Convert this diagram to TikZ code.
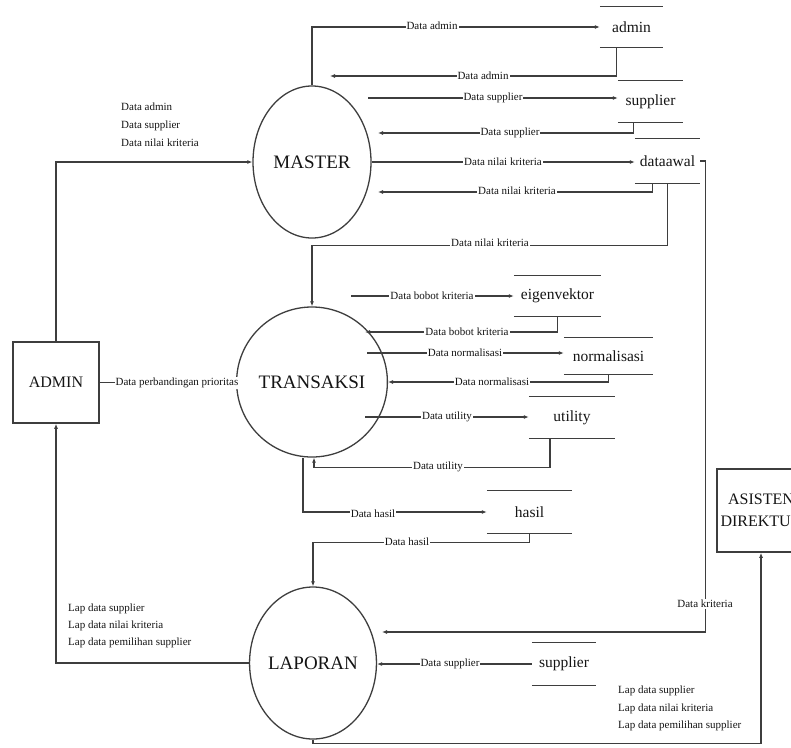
\documentclass[tikz,border=0pt]{standalone}
\usepackage{fontspec}
\setmainfont{Liberation Serif}
\usetikzlibrary{arrows.meta,shapes.geometric,calc}
\definecolor{ln}{RGB}{62,62,62}
\definecolor{tx}{RGB}{20,20,20}
\begin{document}
\begin{tikzpicture}[x=1pt,y=-1pt,
  arr/.style={draw=ln, line width=1.2pt, -{Latex[length=5pt,width=4pt]}},
  proc/.style={ellipse, draw=ln, line width=1.3pt, minimum width=118pt, minimum height=152pt, inner sep=0pt, text=tx, font=\fontsize{19}{21}\selectfont},
  ext/.style={rectangle, draw=ln, line width=1.6pt, inner sep=0pt, text=tx, align=center, font=\fontsize{16}{22}\selectfont},
  storeline/.style={draw=ln, line width=1.2pt},
  store/.style={inner sep=0pt, text=tx, font=\fontsize{15.5}{17}\selectfont,
    append after command={(\tikzlastnode.north west) edge[storeline] (\tikzlastnode.north east)
                          (\tikzlastnode.south west) edge[storeline] (\tikzlastnode.south east)}},
  lbl/.style={fill=white, inner sep=1pt, text=tx, font=\fontsize{11}{12}\selectfont},
  multi/.style={inner sep=0pt, text=tx, align=left, font=\fontsize{11}{18}\selectfont}
]
\useasboundingbox (0,0) rectangle (791,747);
\clip (0,0) rectangle (791,747);

% processes
\node[proc] (master) at (312,162) {MASTER};
\node[proc, minimum width=120pt, minimum height=150pt] (trans) at (312,382) {TRANSAKSI};
\node[proc] (lap) at (313,663) {LAPORAN};

% external entities
\node[ext, minimum width=86pt, minimum height=81pt] (adm) at (56,382.5) {ADMIN};
\node[ext, minimum width=88pt, minimum height=83pt] (asis) at (761,510.5) {ASISTEN\\DIREKTUR};

% data stores
\node[store, minimum width=63pt, minimum height=40pt] (sadmin) at (631.5,27) {admin};
\node[store, minimum width=65pt, minimum height=41pt] (ssup) at (650.5,101.5) {supplier};
\node[store, minimum width=65pt, minimum height=44pt] (sawal) at (667.5,161) {dataawal};
\node[store, minimum width=87pt, minimum height=40pt] (seig) at (557.5,296) {eigenvektor};
\node[store, minimum width=89pt, minimum height=36pt] (snorm) at (608.5,356) {normalisasi};
\node[store, minimum width=86pt, minimum height=41pt] (sutil) at (572,417.5) {utility};
\node[store, minimum width=85pt, minimum height=42pt] (shasil) at (529.5,512) {hasil};
\node[store, minimum width=64pt, minimum height=42pt] (ssup2) at (564,664) {supplier};

% free ends and boundary points
\coordinate (e1) at (330,76);
\coordinate (s1) at (368,98);
\coordinate (e2) at (378,133);
\coordinate (e3) at (378,192);
\coordinate (s2) at (351,296);
\coordinate (e5) at (365,332);
\coordinate (e4) at (382,632);
\coordinate (tn) at ($(trans.center)+(55.3,-29)$);
\coordinate (tu) at ($(trans.center)+(53,35)$);

% connectors
\draw[arr] (adm.north) |- (master.west);
\draw[arr] (master.north) |- (sadmin.west);
\draw[arr] ([xshift=-15pt]sadmin.south) |- (e1);
\draw[arr] (s1) -- (s1 -| ssup.west);
\draw[arr] ([xshift=-17pt]ssup.south) |- (e2);
\draw[arr] (master.east) -- (master.east -| sawal.west);
\draw[arr] ([xshift=-15pt]sawal.south) |- (e3);
\draw[arr] (sawal.south) -- ++(0,62) -| (trans.north);
\draw[arr] (sawal.east) -- ++(5,0) |- (e4);
\draw[arr] (adm.east) -- (adm.east -| trans.west);
\draw[arr] (s2) -- (s2 -| seig.west);
\draw[arr] (seig.south) |- (e5);
\draw[arr] (tn) -- (tn -| snorm.west);
\draw[arr] (snorm.south) |- (trans.east);
\draw[arr] (tu) -- (tu -| sutil.west);
\draw[arr] ([xshift=-22pt]sutil.south) -- ++(0,29.5) -| ([xshift=2pt]trans.south);
\draw[arr] ([xshift=-9pt]trans.south) |- (shasil.west);
\draw[arr] (shasil.south) -- ++(0,9.5) -| (lap.north);
\draw[arr] (ssup2.west) -- (ssup2.west -| lap.east);
\draw[arr] (lap.west) -| (adm.south);
\draw[arr] (lap.south) -- ++(0,4) -| (asis.south);

% flow labels
\node[lbl] at (432,26) {Data admin};
\node[lbl] at (483,76) {Data admin};
\node[lbl] at (493,98) {Data supplier};
\node[lbl] at (510,133) {Data supplier};
\node[lbl] at (503,162) {Data nilai kriteria};
\node[lbl] at (517,191) {Data nilai kriteria};
\node[lbl] at (490,243) {Data nilai kriteria};
\node[lbl] at (177,382.5) {Data perbandingan prioritas};
\node[lbl] at (432,296) {Data bobot kriteria};
\node[lbl] at (467,332) {Data bobot kriteria};
\node[lbl] at (465,353) {Data normalisasi};
\node[lbl] at (492,382) {Data normalisasi};
\node[lbl] at (447,417) {Data utility};
\node[lbl] at (438,467) {Data utility};
\node[lbl] at (373,514) {Data hasil};
\node[lbl] at (407,542) {Data hasil};
\node[lbl] at (450,664) {Data supplier};
\node[lbl] at (705,604) {Data kriteria};

\node[multi, anchor=north west] at (121,103) {Data admin\\Data supplier\\Data nilai kriteria};
\node[multi, anchor=north west, font=\fontsize{11}{17}\selectfont] at (68,604) {Lap data supplier\\Lap data nilai kriteria\\Lap data pemilihan supplier};
\node[multi, anchor=north west, font=\fontsize{11}{17.5}\selectfont] at (618,686) {Lap data supplier\\Lap data nilai kriteria\\Lap data pemilihan supplier};
\end{tikzpicture}
\end{document}
